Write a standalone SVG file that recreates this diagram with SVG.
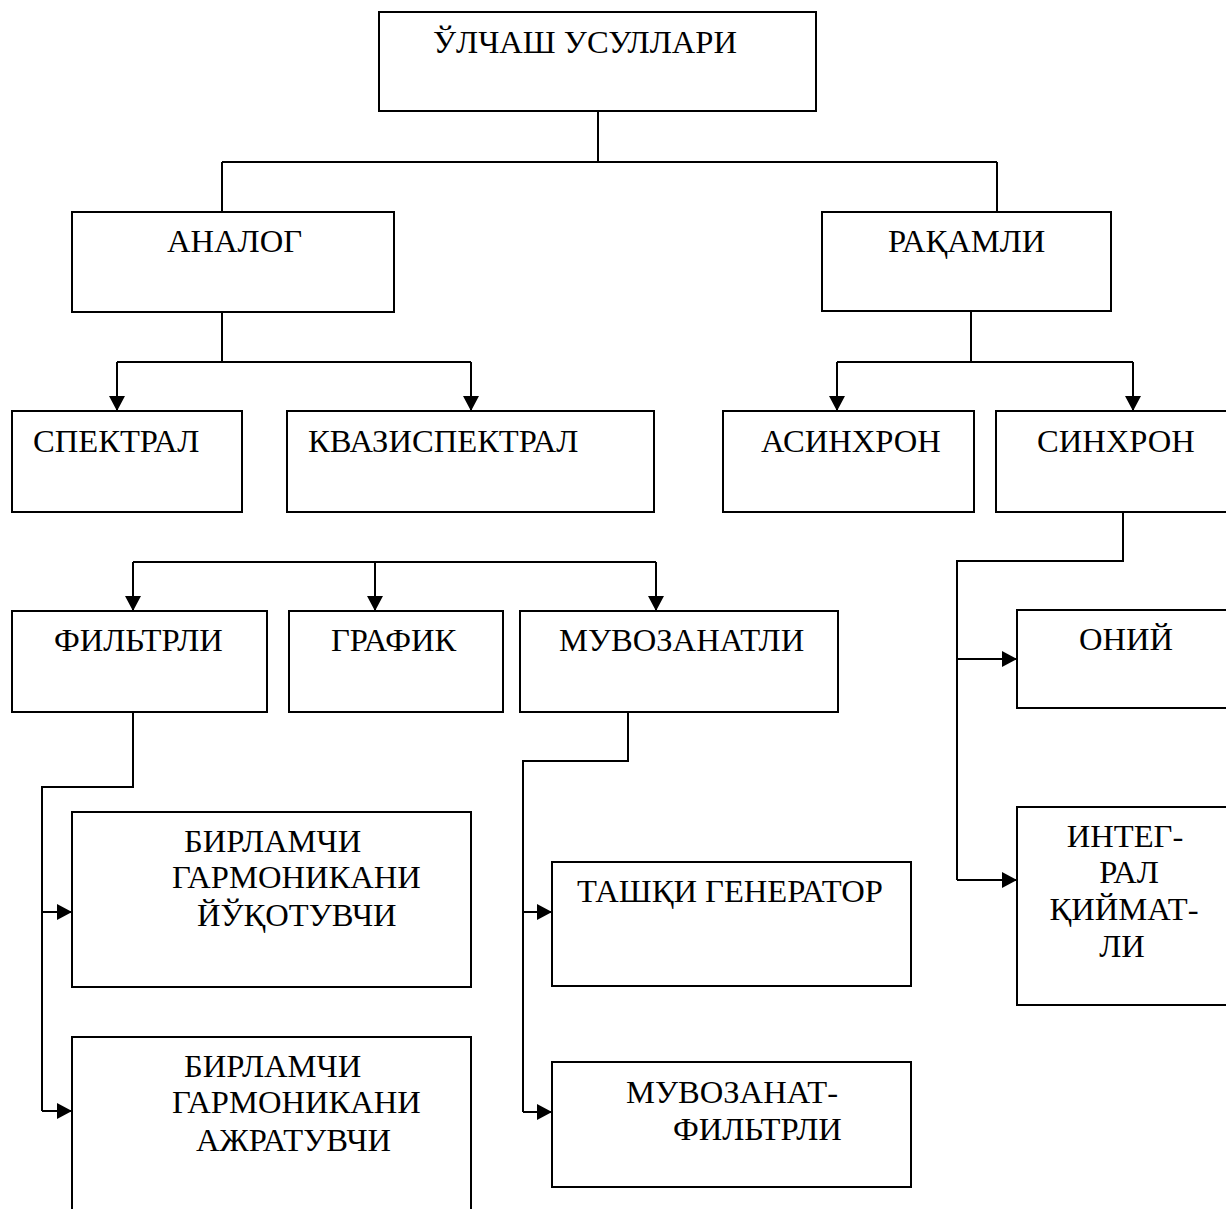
<svg xmlns="http://www.w3.org/2000/svg" width="1226" height="1209" viewBox="0 0 1226 1209">
  <style>
    .box { fill: #ffffff; stroke: #000000; stroke-width: 2; }
    .lbl { font-family: "Liberation Serif", "Times New Roman", serif; font-size: 32.6px; fill: #000000; }
    .wire { fill: none; stroke: #000000; stroke-width: 2; }
    .arr { fill: none; stroke: #000000; stroke-width: 2; marker-end: url(#head); }
  </style>
  <defs>
    <marker id="head" markerUnits="userSpaceOnUse" markerWidth="15" markerHeight="16" refX="15" refY="8" orient="auto">
      <path d="M0,0 L15,8 L0,16 z" fill="#000000"/>
    </marker>
  </defs>
  <rect width="1226" height="1209" fill="#ffffff"/>

  <g id="connectors">
    <!-- root to the two families -->
    <path class="wire" d="M598,111 V162 M222,162 H997 M222,162 V212 M997,162 V212"/>
    <!-- analog branch -->
    <path class="wire" d="M222,312 V362 M117,362 H471"/>
    <path class="arr" d="M117,362 V411"/>
    <path class="arr" d="M471,362 V411"/>
    <!-- digital branch -->
    <path class="wire" d="M971,311 V362 M837,362 H1133"/>
    <path class="arr" d="M837,362 V411"/>
    <path class="arr" d="M1133,362 V411"/>
    <!-- third row bus -->
    <path class="wire" d="M133,562 H656"/>
    <path class="arr" d="M133,562 V611"/>
    <path class="arr" d="M375,562 V611"/>
    <path class="arr" d="M656,562 V611"/>
    <!-- filter branch -->
    <path class="wire" d="M133,712 V787 H42 V1111"/>
    <path class="arr" d="M42,912 H72"/>
    <path class="arr" d="M42,1111 H72"/>
    <!-- balance branch -->
    <path class="wire" d="M628,712 V761 H523 V1112"/>
    <path class="arr" d="M523,912 H552"/>
    <path class="arr" d="M523,1112 H552"/>
    <!-- synchronous branch -->
    <path class="wire" d="M1123,512 V561 H957 V880"/>
    <path class="arr" d="M957,659 H1017"/>
    <path class="arr" d="M957,880 H1017"/>
  </g>

  <g id="root">
    <rect class="box" x="379" y="12" width="437" height="99"/>
    <text class="lbl" x="433" y="53">ЎЛЧАШ УСУЛЛАРИ</text>
  </g>
  <g id="analog">
    <rect class="box" x="72" y="212" width="322" height="100"/>
    <text class="lbl" x="167" y="252">АНАЛОГ</text>
  </g>
  <g id="digital">
    <rect class="box" x="822" y="212" width="289" height="99"/>
    <text class="lbl" x="888" y="252">РАҚАМЛИ</text>
  </g>
  <g id="spectral">
    <rect class="box" x="12" y="411" width="230" height="101"/>
    <text class="lbl" x="33" y="452">СПЕКТРАЛ</text>
  </g>
  <g id="quasispectral">
    <rect class="box" x="287" y="411" width="367" height="101"/>
    <text class="lbl" x="308" y="452">КВАЗИСПЕКТРАЛ</text>
  </g>
  <g id="asynchronous">
    <rect class="box" x="723" y="411" width="251" height="101"/>
    <text class="lbl" x="761" y="452">АСИНХРОН</text>
  </g>
  <g id="synchronous">
    <rect class="box" x="996" y="411" width="250" height="101"/>
    <text class="lbl" x="1037" y="452">СИНХРОН</text>
  </g>
  <g id="filter">
    <rect class="box" x="12" y="611" width="255" height="101"/>
    <text class="lbl" x="54" y="651">ФИЛЬТРЛИ</text>
  </g>
  <g id="graphic">
    <rect class="box" x="289" y="611" width="214" height="101"/>
    <text class="lbl" x="331" y="651">ГРАФИК</text>
  </g>
  <g id="balance">
    <rect class="box" x="520" y="611" width="318" height="101"/>
    <text class="lbl" x="559" y="651">МУВОЗАНАТЛИ</text>
  </g>
  <g id="instant">
    <rect class="box" x="1017" y="610" width="230" height="98"/>
    <text class="lbl" x="1079" y="650">ОНИЙ</text>
  </g>
  <g id="integral">
    <rect class="box" x="1017" y="807" width="230" height="198"/>
    <text class="lbl" text-anchor="middle" x="1125" y="847">ИНТЕГ-</text>
    <text class="lbl" text-anchor="middle" x="1129" y="883">РАЛ</text>
    <text class="lbl" text-anchor="middle" x="1124" y="920">ҚИЙМАТ-</text>
    <text class="lbl" text-anchor="middle" x="1122" y="957">ЛИ</text>
  </g>
  <g id="suppressor">
    <rect class="box" x="72" y="812" width="399" height="175"/>
    <text class="lbl" x="184" y="852">БИРЛАМЧИ</text>
    <text class="lbl" x="172" y="888">ГАРМОНИКАНИ</text>
    <text class="lbl" x="197" y="926">ЙЎҚОТУВЧИ</text>
  </g>
  <g id="separator">
    <rect class="box" x="72" y="1037" width="399" height="200"/>
    <text class="lbl" x="184" y="1077">БИРЛАМЧИ</text>
    <text class="lbl" x="172" y="1113">ГАРМОНИКАНИ</text>
    <text class="lbl" x="196" y="1151">АЖРАТУВЧИ</text>
  </g>
  <g id="external-generator">
    <rect class="box" x="552" y="862" width="359" height="124"/>
    <text class="lbl" x="577" y="902">ТАШҚИ ГЕНЕРАТОР</text>
  </g>
  <g id="balance-filter">
    <rect class="box" x="552" y="1062" width="359" height="125"/>
    <text class="lbl" x="626" y="1103">МУВОЗАНАТ-</text>
    <text class="lbl" x="673" y="1140">ФИЛЬТРЛИ</text>
  </g>
</svg>
